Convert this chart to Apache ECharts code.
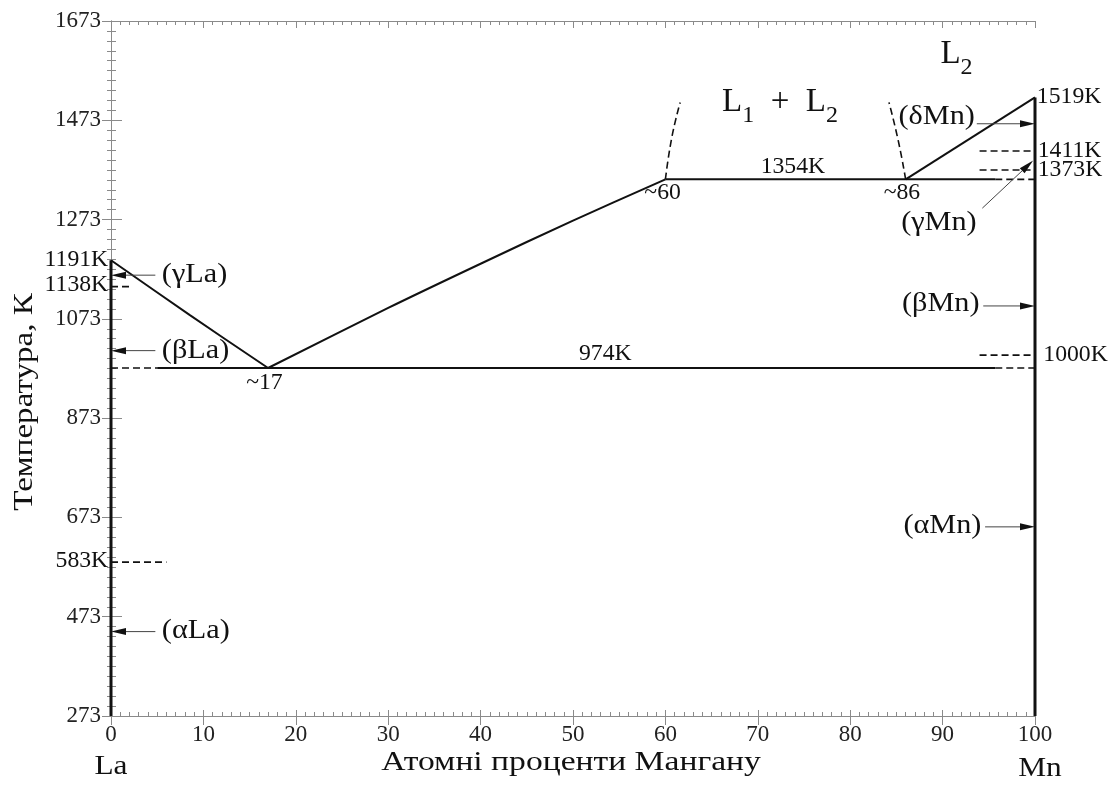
<!DOCTYPE html>
<html>
<head>
<meta charset="utf-8">
<script src="https://cdn.jsdelivr.net/npm/echarts@6/dist/echarts.min.js"></script>
<style>html,body{margin:0;padding:0;background:#fff}#c{width:1119px;height:789px}</style>
</head>
<body>
<div id="c"></div>
<script>
// ---- data (atomic % Mn, temperature K) ----
const xTickInterval = 10;
const yTicksMin = 273, yTicksMax = 1673, yTickInterval = 200;
const liquidusLa = [[0,1191],[8.5,1081],[17,974]];
const liquidusMid = [[17,974],[30,1095],[40,1184],[50,1271],[60,1354]];
const liquidusMn = [[86,1354],[100,1519]];
const eutectic974 = [[5,974],[95.7,974]];
const monotectic1354 = [[60,1354],[95.7,1354]];
const gapLeft = [[60,1354],[60.7,1439],[61.6,1509]];
const gapRight = [[86,1354],[85.2,1432],[84.2,1509]];
const pureLa = [[0,273],[0,1191]];
const pureMn = [[100,273],[100,1519]];
const dashedSegments = [
  [[0,974],[5,974]],
  [[95.7,974],[100,974]],
  [[95.7,1354],[100,1354]],
  [[0,1138],[2.1,1138]],
  [[0,583],[6,583]],
  [[94,1411],[100,1411]],
  [[94,1373],[100,1373]],
  [[94,1000],[100,1000]]
];
// arrows: [x1, y1, x2, y2] (tail -> head)
const arrows = [
  [4.8,1161,0,1161],
  [4.8,1009,0,1009],
  [4.8,443,0,443],
  [93.7,1466,100,1466],
  [94.4,1099,100,1099],
  [94.6,654,100,654],
  [94.3,1296,99.8,1392]
];
// phase labels: [x, y, text, align]
const phaseNames = [
  [5.5,1162,'(γLa)','left'],
  [5.5,1009,'(βLa)','left'],
  [5.5,444,'(αLa)','left'],
  [93.5,1479,'(δMn)','right'],
  [94.0,1104,'(βMn)','right'],
  [94.2,656,'(αMn)','right'],
  [89.6,1266,'(γMn)','center']
];
// value labels: [x, y, text, align]
const valueLabels = [
  [16.6,944,'~17','center'],
  [53.5,1002,'974K','center'],
  [73.8,1378,'1354K','center'],
  [59.7,1326,'~60','center'],
  [85.6,1326,'~86','center'],
  [-0.3,1191,'1191K','right'],
  [-0.3,1141,'1138K','right'],
  [-0.3,585,'583K','right'],
  [100.2,1519,'1519K','left'],
  [100.3,1412,'1411K','left'],
  [100.3,1372,'1373K','left'],
  [100.9,1000,'1000K','left']
];
// region labels: [x, y, pieces] where piece = [text, isSubscript]
const regionLabels = [
  [72.4,1476,[['L',0],['1',1],['  +  ',0],['L',0],['2',1]]],
  [91.5,1572,[['L',0],['2',1]]]
];

const FONT = '"Liberation Serif", "Times New Roman", serif';
const mctx = document.createElement('canvas').getContext('2d');
function textW(t, size){ mctx.font = size + 'px ' + FONT; return mctx.measureText(t).width; }

const chart = echarts.init(document.getElementById('c'), null, {renderer:'canvas'});

const solid = (data, smooth) => ({
  type:'line', data, smooth: smooth || false, symbol:'none', silent:true,
  lineStyle:{color:'#111', width:2}, z:5
});
const dashed = (data, smooth) => ({
  type:'line', data, smooth: smooth || false, symbol:'none', silent:true,
  lineStyle:{color:'#111', width:1.6, type:[7,4]}, z:5
});
const textSeries = (arr, size, sx) => ({
  type:'custom', silent:true, clip:false, z:7,
  data: arr.map(l => [l[0], l[1]]),
  renderItem: function(params, api){
    const l = arr[params.dataIndex];
    const p = api.coord([l[0], l[1]]);
    return {
      type:'text', x:p[0], y:p[1], scaleX:sx,
      style:{text:l[2], font:size + 'px ' + FONT, fill:'#111', align:l[3], verticalAlign:'middle'}
    };
  }
});

const axisGrey = '#8a8a8a';
const tickFmt = v => String(v);

const option = {
  animation:false,
  grid: {left:111, top:21, right:84, bottom:73},
  xAxis: [
    {
      type:'value', position:'bottom', min:0, max:100, interval:xTickInterval,
      axisLine:{show:true, lineStyle:{color:axisGrey, width:1}},
      axisTick:{show:true, length:9, lineStyle:{color:axisGrey}},
      minorTick:{show:false},
      splitLine:{show:false},
      axisLabel:{color:'#222', fontFamily:FONT, fontSize:23, margin:7, formatter:tickFmt}
    },
    {
      type:'value', position:'bottom', min:0, max:100, interval:xTickInterval,
      axisLine:{show:false},
      axisTick:{show:true, inside:true, length:6, lineStyle:{color:axisGrey}},
      minorTick:{show:true, splitNumber:10, length:4, lineStyle:{color:axisGrey}},
      splitLine:{show:false}, axisLabel:{show:false}
    },
    {
      type:'value', position:'top', min:0, max:100, interval:xTickInterval,
      axisLine:{show:true, lineStyle:{color:axisGrey, width:1}},
      axisTick:{show:true, inside:true, length:7, lineStyle:{color:axisGrey}},
      minorTick:{show:true, splitNumber:10, length:4, lineStyle:{color:axisGrey}},
      splitLine:{show:false}, axisLabel:{show:false}
    }
  ],
  yAxis: [
    {
      type:'value', position:'left', min:yTicksMin, max:yTicksMax, interval:yTickInterval,
      axisLine:{show:true, lineStyle:{color:axisGrey, width:1}},
      axisTick:{show:true, length:9, lineStyle:{color:axisGrey}},
      minorTick:{show:true, splitNumber:10, length:4, lineStyle:{color:axisGrey}},
      splitLine:{show:false},
      axisLabel:{color:'#222', fontFamily:FONT, fontSize:23, margin:10, formatter:tickFmt}
    },
    {
      type:'value', position:'right', min:yTicksMin, max:yTicksMax, interval:yTickInterval,
      axisLine:{show:true, lineStyle:{color:axisGrey, width:1}},
      axisTick:{show:true, length:11, lineStyle:{color:axisGrey}},
      minorTick:{show:true, splitNumber:10, length:5, lineStyle:{color:axisGrey}},
      splitLine:{show:false}, axisLabel:{show:false}
    }
  ],
  graphic: [
    {type:'text', x:571, y:763, scaleX:1.2, style:{text:'Атомні проценти Мангану', font:'28px '+FONT, fill:'#111', align:'center', verticalAlign:'middle'}},
    {type:'text', x:25, y:402, rotation:Math.PI/2, scaleX:1.18, style:{text:'Температура, К', font:'28px '+FONT, fill:'#111', align:'center', verticalAlign:'middle'}},
    {type:'text', x:111, y:767, scaleX:1.12, style:{text:'La', font:'28px '+FONT, fill:'#111', align:'center', verticalAlign:'middle'}},
    {type:'text', x:1040, y:769, scaleX:1.12, style:{text:'Mn', font:'28px '+FONT, fill:'#111', align:'center', verticalAlign:'middle'}}
  ],
  series: [
    Object.assign(solid(pureLa), {lineStyle:{color:'#111', width:3}}),
    Object.assign(solid(pureMn), {lineStyle:{color:'#111', width:3}}),
    solid(liquidusLa, 0.3),
    solid(liquidusMid, 0.3),
    solid(liquidusMn),
    solid(eutectic974),
    solid(monotectic1354),
    dashed(gapLeft, 0.5),
    dashed(gapRight, 0.5),
    ...dashedSegments.map(s => dashed(s)),
    {
      type:'custom', silent:true, clip:false, z:6,
      data: arrows,
      renderItem: function(params, api){
        const p1 = api.coord([api.value(0), api.value(1)]);
        const p2 = api.coord([api.value(2), api.value(3)]);
        const dx = p2[0]-p1[0], dy = p2[1]-p1[1];
        const len = Math.sqrt(dx*dx+dy*dy);
        const ux = dx/len, uy = dy/len;
        const hl = 15, hw = 3.5;
        const bx = p2[0]-ux*hl, by = p2[1]-uy*hl;
        return {
          type:'group',
          children:[
            {type:'line', shape:{x1:p1[0], y1:p1[1], x2:bx, y2:by}, style:{stroke:'#444', lineWidth:1}},
            {type:'polygon', shape:{points:[[p2[0],p2[1]],[bx-uy*hw, by+ux*hw],[bx+uy*hw, by-ux*hw]]}, style:{fill:'#111'}}
          ]
        };
      }
    },
    textSeries(phaseNames, 27, 1.12),
    textSeries(valueLabels, 23, 1.03),
    {
      type:'custom', silent:true, clip:false, z:7,
      data: regionLabels.map(l => [l[0], l[1]]),
      renderItem: function(params, api){
        const l = regionLabels[params.dataIndex];
        const p = api.coord([l[0], l[1]]);
        const big = 33, small = 24;
        const widths = l[2].map(pc => textW(pc[0], pc[1] ? small : big));
        const total = widths.reduce((a,b)=>a+b, 0);
        let cx = p[0] - total/2;
        const children = l[2].map((pc, i) => {
          const el = {
            type:'text', x:cx, y: pc[1] ? p[1] + 9 : p[1],
            style:{text:pc[0], font:(pc[1] ? small : big) + 'px ' + FONT, fill:'#111', align:'left', verticalAlign:'bottom'}
          };
          cx += widths[i];
          return el;
        });
        return {type:'group', children};
      }
    }
  ]
};
chart.setOption(option);
</script>
</body>
</html>
